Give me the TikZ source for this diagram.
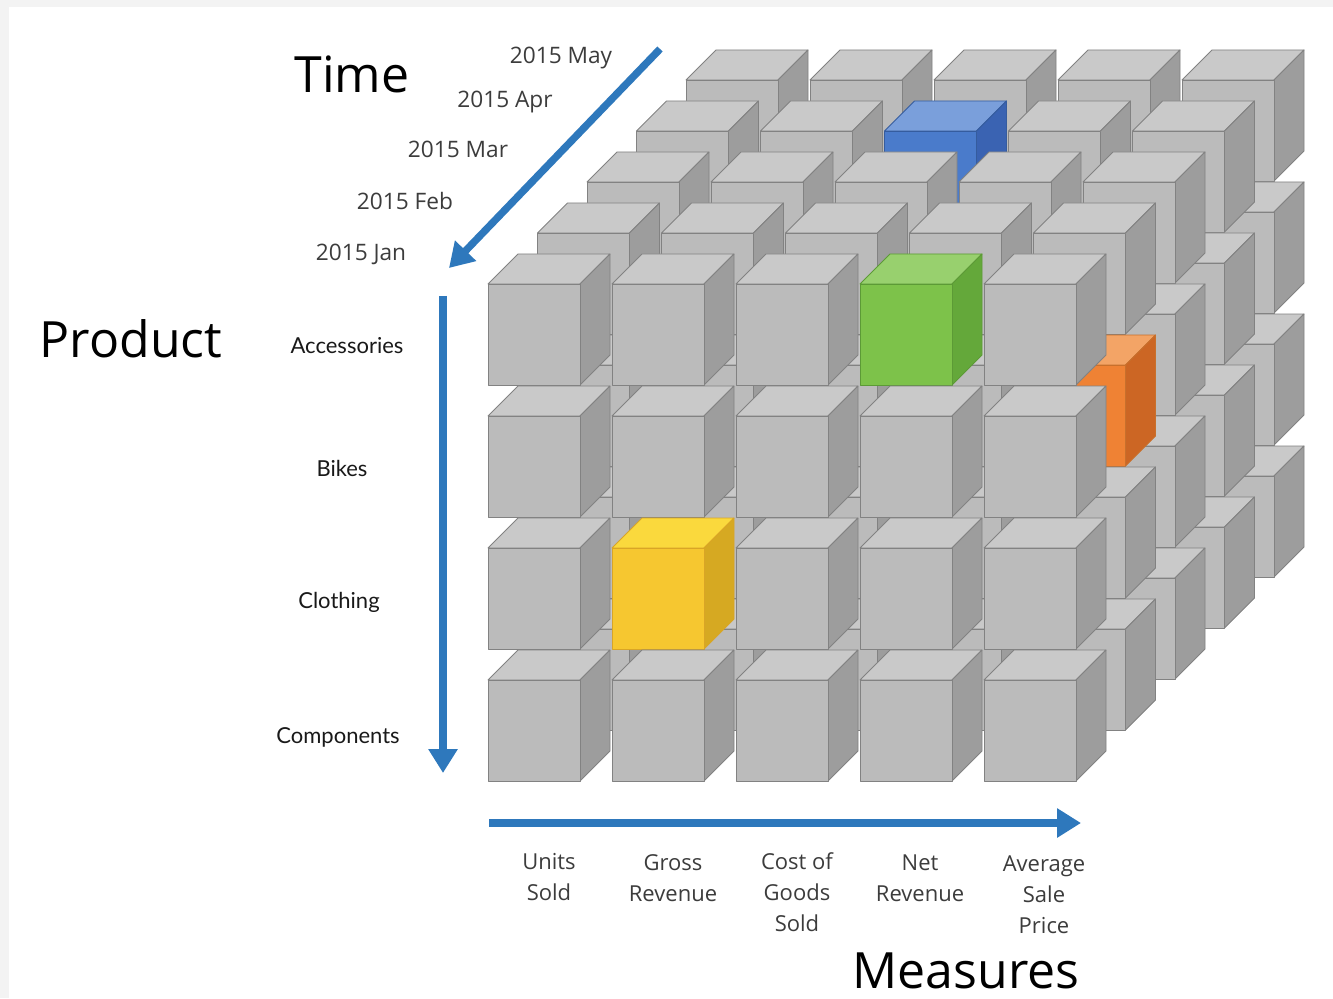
\documentclass[tikz,border=0pt]{standalone}
\usepackage{fontspec}
\setmainfont{Open Sans}
\newfontfamily\prodfont{Lato}
\usetikzlibrary{arrows.meta}
\definecolor{bgborder}{HTML}{F3F3F3}
\definecolor{axisblue}{HTML}{2E78BC}
\definecolor{labgray}{HTML}{3C3C3C}
\definecolor{gfront}{HTML}{BBBBBB}
\definecolor{gtop}{HTML}{C9C9C9}
\definecolor{gside}{HTML}{9D9D9D}
\definecolor{gedge}{HTML}{828282}
\definecolor{bfront}{HTML}{4A7BCB}
\definecolor{btop}{HTML}{7A9FDB}
\definecolor{bside}{HTML}{3A63B2}
\definecolor{bedge}{HTML}{355C9E}
\definecolor{grfront}{HTML}{7DC24A}
\definecolor{grtop}{HTML}{98D06E}
\definecolor{grside}{HTML}{64A83A}
\definecolor{gredge}{HTML}{5C9A36}
\definecolor{yfront}{HTML}{F6C730}
\definecolor{ytop}{HTML}{FAD93D}
\definecolor{yside}{HTML}{D6A922}
\definecolor{yedge}{HTML}{D9A526}
\definecolor{ofront}{HTML}{EF8234}
\definecolor{otop}{HTML}{F3A466}
\definecolor{oside}{HTML}{CC6624}
\definecolor{oedge}{HTML}{C8702C}
\newcommand\drawcube[6]{%
  \begin{scope}[shift={(#1,#2)},line width=0.6pt,line join=round]
    \filldraw[draw=#6,fill=#4] (0,0)--(30,-30)--(122,-30)--(92,0)--cycle;
    \filldraw[draw=#6,fill=#5] (92,0)--(122,-30)--(122,71)--(92,101)--cycle;
    \filldraw[draw=#6,fill=#3] (0,0) rectangle (92,101);
  \end{scope}}
\tikzset{
  axis/.style={draw=axisblue,line width=5.5pt,-{Triangle[width=21pt,length=18pt]}},
  biglab/.style={anchor=base,inner sep=0pt,text=black,font=\fontsize{37.5}{45}\selectfont},
  datelab/.style={anchor=base,inner sep=0pt,text=labgray,font=\fontsize{17}{20}\selectfont},
  prodlab/.style={anchor=base,inner sep=0pt,text=black!90,font=\prodfont\fontsize{16.5}{20}\selectfont},
  measlab/.style={anchor=north,inner sep=0pt,align=center,text=labgray,font=\fontsize{16.5}{23.25}\selectfont}
}
\begin{document}
\begin{tikzpicture}[x=0.75pt,y=-0.75pt]
\useasboundingbox (0,0) rectangle (1333,998);
\fill[bgborder] (0,0) rectangle (1333,998);
\fill[white] (9,7) rectangle (1333,998);
% cubes, back layer first
\foreach \l in {4,3,2,1,0}{
  \foreach \r in {0,1,2,3}{
    \foreach \c in {0,1,2,3,4}{
      \pgfmathtruncatemacro\id{100*\l+10*\r+\c}
      \pgfmathsetmacro\xx{488+124*\c+49.5*\l}
      \pgfmathsetmacro\yy{284+132*\r-51*\l}
      \def\cf{gfront}\def\ct{gtop}\def\cs{gside}\def\ce{gedge}
      \ifnum\id=302 \def\cf{bfront}\def\ct{btop}\def\cs{bside}\def\ce{bedge}\fi
      \ifnum\id=3 \def\cf{grfront}\def\ct{grtop}\def\cs{grside}\def\ce{gredge}\fi
      \ifnum\id=114 \def\cf{ofront}\def\ct{otop}\def\cs{oside}\def\ce{oedge}\fi
      \ifnum\id=21 \def\cf{yfront}\def\ct{ytop}\def\cs{yside}\def\ce{yedge}\fi
      \drawcube{\xx}{\yy}{\cf}{\ct}{\cs}{\ce}
    }
  }
}
% axes
\coordinate (tstart) at (660,49);
\coordinate (tend) at (449,268);
\coordinate (pstart) at (443,296);
\coordinate (pend) at (443,773);
\coordinate (mstart) at (489,823);
\coordinate (mend) at (1081,823);
\draw[axis] (tstart) -- (tend);
\draw[axis] (pstart) -- (pend);
\draw[axis] (mstart) -- (mend);
% big labels
\node[biglab] (time) at (352,93) {Time};
\node[biglab] (product) at (131,357) {Product};
\node[biglab] (measures) at (966,988) {Measures};
% time labels
\node[datelab] (may) at (561,64) {2015 May};
\node[datelab] (apr) at (505,108) {2015 Apr};
\node[datelab] (mar) at (458,158) {2015 Mar};
\node[datelab] (feb) at (405,210) {2015 Feb};
\node[datelab] (jan) at (361,261) {2015 Jan};
% product labels
\node[prodlab] (acc) at (347,353) {Accessories};
\node[prodlab] (bikes) at (342,476) {Bikes};
\node[prodlab] (cloth) at (339,608) {Clothing};
\node[prodlab] (comp) at (338,743) {Components};
% measure labels
\node[measlab] (units) at (549,853) {Units\\Sold};
\node[measlab] (gross) at (673,854) {Gross\\Revenue};
\node[measlab] (cogs) at (797,852) {Cost of\\Goods\\Sold};
\node[measlab] (net) at (920,855) {Net\\Revenue};
\node[measlab] (avg) at (1044,855) {Average\\Sale\\Price};
\end{tikzpicture}
\end{document}
